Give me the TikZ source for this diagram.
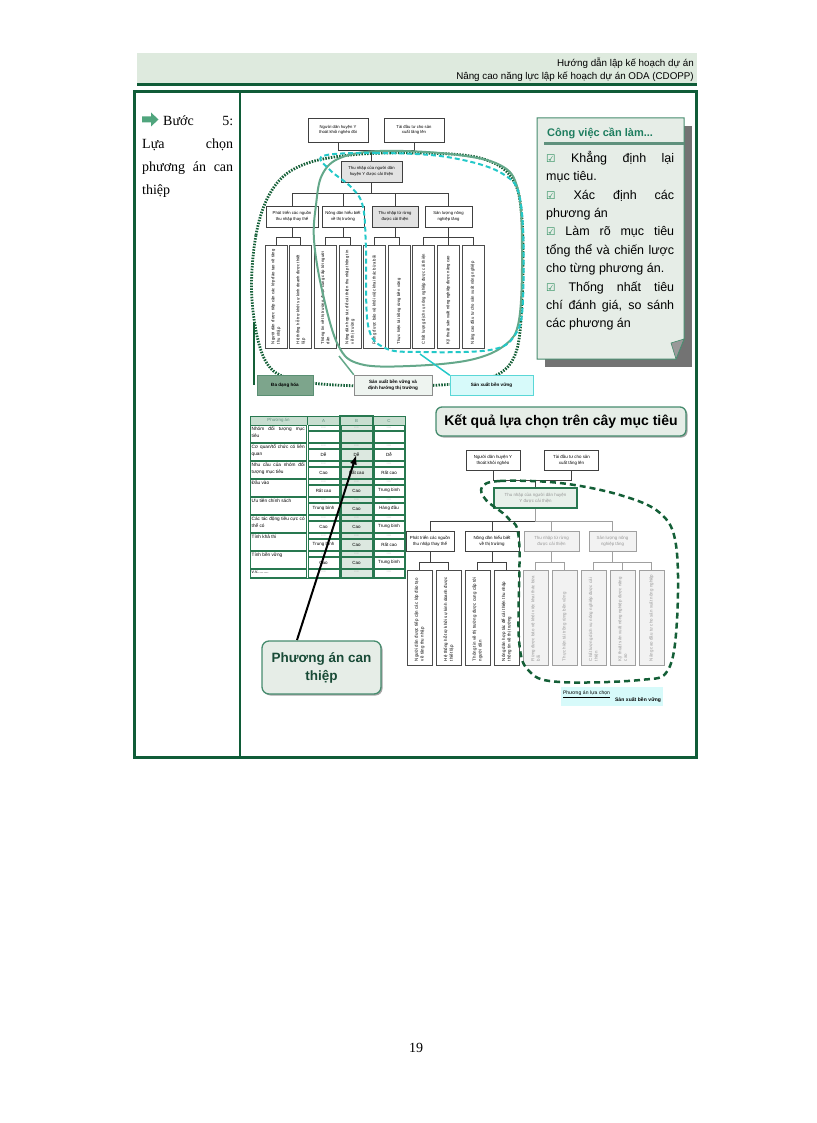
\documentclass[tikz,border=0pt]{standalone}
\usepackage{fontspec}
\setmainfont{Liberation Serif}
\setsansfont{Liberation Sans}
\renewcommand{\familydefault}{\sfdefault}
\newfontfamily\checkfont{DejaVu Sans}
\usepackage{tikz}
\usetikzlibrary{arrows.meta,shadows}
\newcommand{\setfs}[2]{\fontsize{#1}{#2}\selectfont}
\newcommand{\gap}{\hskip 0pt plus 1filll\relax}
\newcommand{\ckbox}{{\checkfont\color{checkgreen}\setfs{10.5}{10}☑}}
\definecolor{frameline}{RGB}{ 16, 92, 56}
\definecolor{bandfill}{RGB}{222,234,222}
\definecolor{panelfill}{RGB}{230,237,231}
\definecolor{panelline}{RGB}{ 70,140,110}
\definecolor{panelrule}{RGB}{ 95,145,125}
\definecolor{titleteal}{RGB}{ 30,125, 95}
\definecolor{checkgreen}{RGB}{ 40,140, 90}
\definecolor{seagreen}{RGB}{100,168,138}
\definecolor{cyandash}{RGB}{ 35,200,200}
\definecolor{dotgreen}{RGB}{ 20, 95, 55}
\definecolor{cyanfill}{RGB}{215,250,250}
\definecolor{cyanline}{RGB}{ 90,215,215}
\definecolor{greyfill}{RGB}{226,226,226}
\definecolor{fadetext}{RGB}{150,150,150}
\definecolor{fadeline}{RGB}{160,160,160}
\definecolor{fadefill}{RGB}{242,242,242}
\definecolor{ctrfill}{RGB}{232,240,234}
\definecolor{tabline}{RGB}{ 40,120, 80}
\definecolor{colbfill}{RGB}{220,232,224}
\definecolor{hdrfill}{RGB}{200,222,208}
\definecolor{dadfill}{RGB}{125,165,140}
\definecolor{sxfill}{RGB}{238,244,240}
\definecolor{patext}{RGB}{ 25, 75, 55}
\definecolor{arrowgreen}{RGB}{ 80,165,125}

\begin{document}
\begin{tikzpicture}[x=1pt,y=-1pt,font=\sffamily,
   link/.style={draw=black!75,line width=0.5pt},
   fadelink/.style={draw=fadeline,line width=0.5pt},
   tbox/.style={draw=black!75,fill=white,line width=0.5pt,inner sep=0.5pt,align=center,
                font=\setfs{4.2}{5.6}},
   tgrey/.style={tbox,fill=greyfill,drop shadow={shadow xshift=1.2pt,shadow yshift=-1.2pt,
                 fill=black!45,opacity=1}},
   tleaf/.style={draw=black!70,fill=white,line width=0.5pt,rotate=90,minimum width=103pt,
                 minimum height=22pt,text width=95pt,inner sep=1pt,align=left,font=\setfs{4.2}{5.4}},
   bbox/.style={draw=black!75,fill=white,line width=0.5pt,inner sep=0.5pt,align=center,
                font=\setfs{4.4}{5.8}},
   bfade/.style={bbox,draw=fadeline,text=fadetext,fill=fadefill},
   bleaf/.style={draw=black!70,fill=white,line width=0.5pt,rotate=90,minimum width=95pt,
                 minimum height=25pt,text width=87pt,inner sep=1pt,align=left,font=\setfs{4.4}{5.6}},
   bleaffade/.style={bleaf,draw=fadeline,text=fadetext,fill=fadefill},
   lbox/.style={draw=black!45,line width=0.5pt,minimum height=20pt,inner sep=0.5pt,align=center,
                font=\bfseries\setfs{4.6}{6}},
   cell/.style={draw=tabline,line width=0.5pt},
   labtext/.style={anchor=north west,inner sep=0pt,text width=53pt,align=justify,
                   font=\setfs{4.7}{6.4}},
   dashtext/.style={inner sep=0pt,text=black!45,font=\setfs{3.6}{4}},
   valcell/.style={draw=tabline,line width=0.5pt,minimum height=11pt,inner sep=0pt,
                   font=\setfs{4.5}{5}},
   bigarrow/.style={-{Latex[length=10pt,width=7pt]},line width=2pt,black},
   roundbox/.style={draw=panelline,fill=panelfill,line width=1.3pt,rounded corners=7pt,align=center,
                    drop shadow={shadow xshift=1.5pt,shadow yshift=-1.5pt,fill=black!35,opacity=1}}]

\path[use as bounding box] (0,0) rectangle (816,1123);

% page header
\fill[bandfill] (137,53) rectangle (697,84);
\draw[frameline,line width=3pt] (137,84.5) -- (697,84.5);
\node[anchor=base east,inner sep=0pt,font=\setfs{9.8}{12}] (hd1) at (694,67) {Hướng dẫn lập kế hoạch dự án};
\node[anchor=base east,inner sep=0pt,font=\setfs{9.8}{12}] (hd2) at (694,80) {Nâng cao năng lực lập kế hoạch dự án ODA (CDOPP)};

% frame
\draw[frameline,line width=3pt] (134,92) rectangle (696,757);
\draw[frameline,line width=2pt] (240,92) -- (240,757);

% step title
\fill[arrowgreen] (142,116.5) -- (151,116.5) -- (151,112.5) -- (158.5,119.5) -- (151,126.5)
   -- (151,122.5) -- (142,122.5) -- cycle;
\node[anchor=north west,text width=91pt,align=left,inner sep=0pt,font=\rmfamily\setfs{14}{23}]
   (step) at (142,116) {\hspace*{21pt}Bước\gap 5:\\Lựa\gap chọn\\phương\gap án\gap can\\thiệp};

% objective tree (top)
\node[tbox,minimum width=60pt,minimum height=24pt] (tA1) at (338,130) {Người dân huyện Y\\thoát khỏi nghèo đói};
\node[tbox,minimum width=60pt,minimum height=24pt] (tA2) at (414,130) {Tài đầu tư cho sản\\xuất tăng lên};
\node[tgrey,minimum width=61pt,minimum height=21pt] (tC) at (371.5,171.5) {Thu nhập của người dân\\huyện Y được cải thiện};
\node[tbox,minimum width=52pt,minimum height=21pt] (ta) at (292,216.5) {Phát triển các nguồn\\thu nhập thay thế};
\node[tbox,minimum width=42pt,minimum height=21pt] (tb) at (343,216.5) {Nông dân hiểu biết\\về thị trường};
\node[tgrey,minimum width=46pt,minimum height=21pt] (tc) at (395,216.5) {Thu nhập từ rừng\\được cải thiện};
\node[tbox,minimum width=47pt,minimum height=21pt] (td) at (448.5,216.5) {Sản lượng nông\\nghiệp tăng};
\foreach \txt [count=\i] in {
   {Người dân được tiếp cận các lớp đào tạo về tăng thu nhập},
   {Hệ thống hỗ trợ khởi sự kinh doanh được thiết lập},
   {Thông tin về thị trường được cung cấp tới người dân},
   {Nông dân hợp tác để cải thiện thu nhập thông tin về thị trường},
   {Rừng được bảo vệ khỏi việc khai thác bừa bãi},
   {Thực hiện tái trồng rừng bền vững},
   {Chất lượng dịch vụ nông nghiệp được cải thiện},
   {Kỹ thuật sản xuất nông nghiệp được nâng cao},
   {Nâng cao đầu tư cho sản xuất nông nghiệp}}
   \node[tleaf] (t\i) at ({276+24.6*(\i-1)},296.5) {\txt};
\draw[link] (tA1.south) -- ++(0,8) -| (tC.north);
\draw[link] (tA2.south) -- ++(0,8) -| (tC.north);
\foreach \p in {ta,tb,tc,td} \draw[link] (tC.south) -- ++(0,11) -| (\p.north);
\foreach \p/\c in {ta/1,ta/2,tb/3,tb/4,tc/5,tc/6,td/7,td/8,td/9}
   \draw[link] (\p.south) -- ++(0,10) -| (t\c.east);

% strategy outlines
\draw[dotgreen,line width=2.8pt,dash pattern=on 1.5pt off 1.3pt] plot[smooth cycle,tension=0.6] coordinates
   {(252,300) (256,235) (272,190) (300,166) (350,155) (420,153) (480,158) (512,178) (522,220)
    (522,300) (515,355) (490,378) (440,385) (360,386) (295,380) (265,360)};
\draw[seagreen,line width=2pt] plot[smooth cycle,tension=0.6] coordinates
   {(316,205) (322,175) (340,158) (380,151) (450,154) (500,165) (518,190) (522,250) (519,320)
    (505,345) (470,360) (410,366) (360,364) (338,345) (322,290) (314,240)};
\draw[cyandash,line width=2pt,dash pattern=on 5pt off 3pt] plot[smooth cycle,tension=0.6] coordinates
   {(323,156) (375,153) (447,157) (503,174) (521,205) (523,300) (515,335) (490,350) (420,352)
    (385,348) (368,325) (366,250) (363,207) (352,188) (330,170)};

% strategy names
\node[lbox,fill=dadfill,draw=dotgreen!70,minimum width=56pt] (dadang) at (285,385) {Đa dạng hóa};
\node[lbox,fill=sxfill,minimum width=78pt] (sxbv1) at (393,385) {Sản xuất bền vững và\\định hướng thị trường};
\node[lbox,fill=cyanfill,draw=cyanline,minimum width=83pt] (sxbv2) at (491.5,385.5) {Sản xuất bền vững};
\coordinate (dtail) at (254,322);
\coordinate (stail) at (339,356);
\coordinate (ctail) at (420,354);
\draw[dotgreen,line width=1.5pt] (dtail) -- (dtail |- dadang.west);
\draw[seagreen,line width=1.5pt] (stail) -- (sxbv1.north west);
\draw[cyandash,line width=1.5pt] (ctail) -- (sxbv2.north west);

% to-do panel
\fill[black!55] (545,126) -- (692,126) -- (692,367) -- (545,367) -- cycle;
\filldraw[fill=panelfill,draw=panelline,line width=1pt] (537,118) -- (684,118) -- (684,339)
   -- (676,359) -- (537,359) -- cycle;
\filldraw[fill=black!40,draw=panelline,line width=0.6pt] (684,339) -- (676,359) -- (671,343) -- cycle;
\node[anchor=base west,inner sep=0pt,text=titleteal,font=\bfseries\setfs{11}{13}] (todohead) at (547,137)
   {Công việc cần làm...};
\draw[panelrule,line width=2.5pt] (544,143.5) -- (684,143.5);
\node[anchor=north west,text width=128pt,align=justify,inner sep=0pt,font=\setfs{12.5}{18.4}] (todo)
   at (546,151) {\setlength\parindent{0pt}%
   \ckbox\ Khẳng định lại\linebreak mục tiêu.\par
   \ckbox\ Xác định các\linebreak phương án\par
   \ckbox\ Làm rõ mục tiêu\linebreak tổng thể và chiến lược\linebreak cho từng phương án.\par
   \ckbox\ Thống nhất tiêu\linebreak chí đánh giá, so sánh\linebreak các phương án};

% criteria table
\fill[colbfill] (340,416) rectangle (373,578);
\fill[hdrfill] (250,416) rectangle (405,425);
\foreach \x/\h in {278.5/Phương án,323.5/A,356.5/B,389/C}
   \node[inner sep=0pt,text=panelrule,font=\setfs{4.4}{5}] at (\x,420.5) {\h};
\foreach \x in {307,340,373} \draw[cell] (\x,416) -- (\x,425);
\foreach \lab/\va/\vb/\vc [count=\i] in {
   {Nhóm đối tượng mục\linebreak tiêu}/{}/{}/{},
   {Cơ quan/tổ chức có liên quan}/Dễ/Dễ/Dễ,
   {Nhu cầu của nhóm đối tượng mục tiêu}/Cao/Rất cao/Rất cao,
   {Đầu vào}/Rất cao/Cao/Trung bình,
   {Ưu tiên chính sách}/Trung bình/Cao/Hàng đầu,
   {Các tác động tiêu cực có thể có}/Cao/Cao/Trung bình,
   {Tính khả thi}/Trung bình/Cao/Rất cao,
   {Tính bền vững}/Cao/Cao/Trung bình}
{
   \pgfmathsetmacro\yt{425+18*(\i-1)}
   \draw[cell] (250.5,\yt+0.5) rectangle (306.5,\yt+17.5);
   \node[labtext] (lab\i) at (251.5,\yt+2) {\lab};
   \foreach \x/\w/\v/\col in {307/33/\va/a,340/33/\vb/b,373/32/\vc/c} {
      \draw[cell] (\x+1,\yt+0.5) rectangle (\x+\w-1,\yt+5.5);
      \node[dashtext] at (\x+\w/2,\yt+3) {-{}-{}-{}-};
      \node[valcell,minimum width=\w-2] (v\i\col) at (\x+\w/2,\yt+11.5) {\v};
   }
}
\draw[cell] (250.5,569.5) rectangle (306.5,577.5);
\node[labtext] (lab9) at (251.5,571) {v.v.........};
\foreach \x/\w in {307/33,340/33,373/32} {
   \draw[cell] (\x+1,569.5) rectangle (\x+\w-1,577.5);
   \node[dashtext] at (\x+\w/2,572) {-{}-{}-{}-};
}
\draw[tabline,line width=1pt] (250,416) rectangle (405,578);
\draw[tabline,line width=1.6pt] (340,416) rectangle (373,578);

% chosen option
\node[roundbox,text=patext,font=\bfseries\setfs{13.5}{18},minimum width=119pt,minimum height=53pt]
   (pa) at (321.5,667.5) {Phương án can\\thiệp};
\coordinate (pastart) at (297,640);
\draw[bigarrow] (pastart) -- (v2b.center);

% result on the objective tree
\node[roundbox,text=black,font=\bfseries\setfs{14}{16},minimum width=250pt,minimum height=29pt,
      rounded corners=6pt] (kq) at (561,421.5) {Kết quả lựa chọn trên cây mục tiêu};

\node[bbox,minimum width=54pt,minimum height=20pt] (bA1) at (493,460) {Người dân huyện Y\\thoát khỏi nghèo};
\node[bbox,minimum width=54pt,minimum height=20pt] (bA2) at (571.5,460) {Tài đầu tư cho sản\\xuất tăng lên};
\node[bbox,draw=tabline,line width=1.6pt,fill=ctrfill,text=fadetext,minimum width=83pt,minimum height=20pt]
   (bC) at (535.5,498) {Thu nhập của người dân huyện\\Y được cải thiện};
\node[bbox,minimum width=48pt,minimum height=20pt] (ba) at (430,541) {Phát triển các nguồn\\thu nhập thay thế};
\node[bbox,minimum width=54pt,minimum height=20pt] (bb) at (492,541) {Nông dân hiểu biết\\về thị trường};
\node[bfade,minimum width=55pt,minimum height=20pt] (bc) at (551.5,541) {Thu nhập từ rừng\\được cải thiện};
\node[bfade,minimum width=47pt,minimum height=20pt] (bd) at (612.5,541) {Sản lượng nông\\nghiệp tăng};
\foreach \txt [count=\i] in {
   {Người dân được tiếp cận các lớp đào tạo về tăng thu nhập},
   {Hệ thống hỗ trợ khởi sự kinh doanh được thiết lập},
   {Thông tin về thị trường được cung cấp tới người dân},
   {Nông dân hợp tác để cải thiện thu nhập thông tin về thị trường}}
   \node[bleaf] (b\i) at ({419.5+29*(\i-1)},617.5) {\txt};
\foreach \txt [count=\i from 5] in {
   {Rừng được bảo vệ khỏi việc khai thác bừa bãi},
   {Thực hiện tái trồng rừng bền vững},
   {Chất lượng dịch vụ nông nghiệp được cải thiện},
   {Kỹ thuật sản xuất nông nghiệp được nâng cao},
   {Nâng cao đầu tư cho sản xuất nông nghiệp}}
   \node[bleaffade] (b\i) at ({419.5+29*(\i-1)},617.5) {\txt};
\draw[link] (bA1.south) -- ++(0,10) -| (bC.north);
\draw[link] (bA2.south) -- ++(0,10) -| (bC.north);
\foreach \p in {ba,bb} \draw[link] (bC.south) -- ++(0,12) -| (\p.north);
\foreach \p in {bc,bd} \draw[fadelink] (bC.south) -- ++(0,12) -| (\p.north);
\foreach \p/\c in {ba/1,ba/2,bb/3,bb/4} \draw[link] (\p.south) -- ++(0,11) -| (b\c.east);
\foreach \p/\c in {bc/5,bc/6,bd/7,bd/8,bd/9} \draw[fadelink] (\p.south) -- ++(0,11) -| (b\c.east);

\draw[dotgreen,line width=2.5pt,dash pattern=on 6pt off 4pt] plot[smooth cycle,tension=0.6] coordinates
   {(482,487) (500,481) (560,483) (620,495) (660,513) (676,545) (677,620) (668,670) (640,680)
    (560,682) (530,672) (519,640) (519,540) (508,518) (486,500)};

\node[fill=cyanfill,minimum width=102pt,minimum height=19pt,text width=98pt,inner sep=2pt,align=left,
      font=\setfs{5}{7}] (pick) at (612,696.5)
   {\underline{Phương án lựa chọn}\\\gap\textbf{Sản xuất bền vững}};

% page number
\node[font=\rmfamily\setfs{14}{16}] (pageno) at (416,1048) {19};
\end{tikzpicture}
\end{document}
